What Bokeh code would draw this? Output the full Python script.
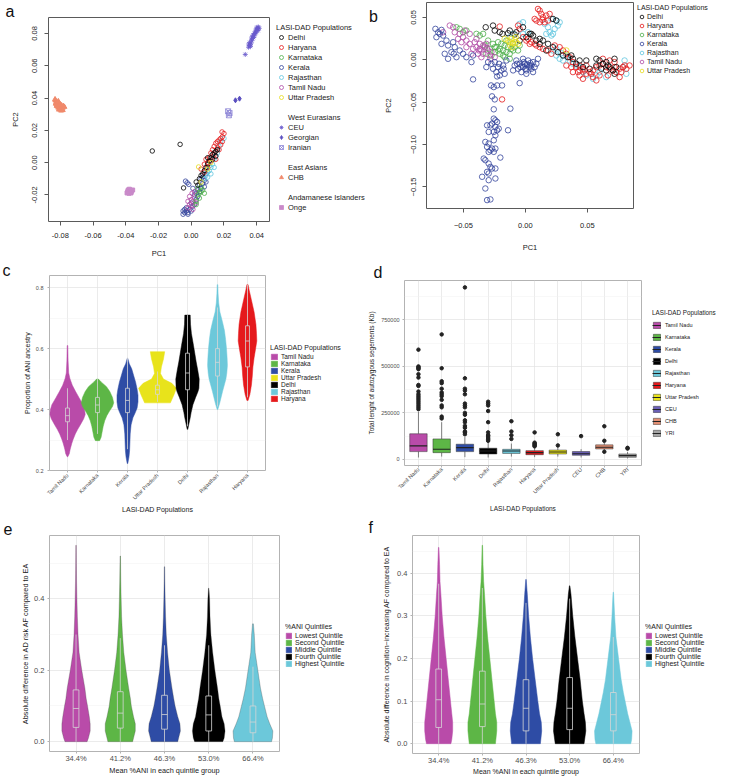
import math
from bokeh.plotting import figure
from bokeh.layouts import column, row
from bokeh.models import Range1d, FixedTicker, Legend, LegendItem, Label, ColumnDataSource
from bokeh.embed import file_html
from bokeh.resources import INLINE

FONT = "Liberation Sans"

# ---------------- Panel a : PCA with reference populations ----------------
a_xticks = [-0.08, -0.06, -0.04, -0.02, 0.0, 0.02, 0.04]
a_xlabels = ["-0.08", "-0.06", "-0.04", "-0.02", "0.00", "0.02", "0.04"]
a_yticks = [-0.02, 0.0, 0.02, 0.04, 0.06, 0.08]
a_ylabels = ["-0.02", "0.00", "0.02", "0.04", "0.06", "0.08"]

a_kerala = [(-0.004, -0.031), (-0.003, -0.030), (-0.002, -0.031), (-0.001, -0.029), (0.000, -0.030),
            (-0.003, -0.028), (0.001, -0.027), (0.002, -0.026), (0.000, -0.025), (0.003, -0.023),
            (0.004, -0.021), (0.003, -0.019), (0.005, -0.018), (0.006, -0.016), (0.005, -0.014),
            (0.007, -0.013), (0.008, -0.011), (0.007, -0.009), (0.009, -0.007), (0.006, -0.010),
            (-0.0035, -0.0115), (-0.0025, -0.0125), (-0.0015, -0.0135), (0.001, -0.016), (0.002, -0.020),
            (0.004, -0.017), (0.008, -0.015), (0.009, -0.012), (-0.005, -0.030), (-0.004, -0.029),
            (-0.005, -0.032), (-0.002, -0.032)]
a_tamil = [(-0.002, -0.028), (-0.001, -0.026), (0.000, -0.027), (0.001, -0.024), (0.002, -0.022),
           (0.000, -0.023), (-0.001, -0.021), (0.003, -0.025), (0.001, -0.029), (0.0005, -0.019),
           (0.002, -0.018), (-0.002, -0.024)]
a_karnataka = [(0.003, -0.024), (0.004, -0.020), (0.005, -0.019), (0.006, -0.018), (0.007, -0.017),
               (0.005, -0.022), (0.006, -0.015), (0.004, -0.016), (0.008, -0.019), (0.003, -0.026)]
a_rajasthan = [(0.008, -0.010), (0.009, -0.008), (0.010, -0.006), (0.011, -0.005), (0.012, -0.003),
               (0.010, -0.009), (0.012, -0.007), (0.013, -0.001), (0.014, 0.002), (0.015, 0.004),
               (0.016, 0.006), (0.017, 0.010), (0.018, 0.013), (0.009, -0.004), (0.011, -0.002),
               (0.013, 0.003), (0.020, 0.015), (0.014, -0.003)]
a_haryana = [(0.006, -0.004), (0.008, -0.001), (0.009, 0.002), (0.010, 0.000), (0.011, 0.003),
             (0.012, 0.006), (0.013, 0.008), (0.014, 0.010), (0.015, 0.012), (0.016, 0.013),
             (0.017, 0.014), (0.018, 0.015), (0.019, 0.016), (0.020, 0.018), (0.018, 0.011),
             (0.016, 0.009), (0.014, 0.005), (0.012, 0.001), (0.010, -0.003), (0.008, -0.006),
             (0.019, 0.013), (0.017, 0.008), (0.015, 0.002), (0.0188, 0.019)]
a_delhi = [(-0.0238, 0.0072), (-0.0068, 0.0113), (-0.0047, -0.0157), (0.003, -0.012), (0.005, -0.010),
           (0.006, -0.008), (0.008, -0.005), (0.009, -0.003), (0.010, -0.001), (0.011, 0.001),
           (0.012, 0.003), (0.013, 0.005), (0.014, 0.006), (0.015, 0.007), (0.016, 0.008),
           (0.015, 0.004), (0.013, 0.002), (0.007, -0.007), (0.004, -0.014), (0.010, 0.003)]
a_up = [(0.0045, -0.0027), (0.006, -0.012), (0.010, -0.004), (0.012, 0.000)]
a_ceu = [(0.0350, 0.0715), (0.0355, 0.0725), (0.0360, 0.0730), (0.0358, 0.0745), (0.0365, 0.0740),
         (0.0370, 0.0755), (0.0368, 0.0765), (0.0375, 0.0770), (0.0380, 0.0775), (0.0378, 0.0790),
         (0.0385, 0.0785), (0.0390, 0.0800), (0.0395, 0.0805), (0.0392, 0.0815), (0.0400, 0.0820),
         (0.0405, 0.0830), (0.0410, 0.0840), (0.0402, 0.0838), (0.0398, 0.0828), (0.0386, 0.0800),
         (0.0372, 0.0780), (0.0362, 0.0720), (0.0352, 0.0735), (0.0408, 0.0818), (0.0415, 0.0832),
         (0.0330, 0.0670)]
a_georgian = [(0.0270, 0.0386), (0.0295, 0.0396)]
a_iranian = [(0.0225, 0.0318), (0.0230, 0.0293), (0.0234, 0.0307)]
a_chb = [(-0.0830, 0.0385), (-0.0825, 0.0375), (-0.0828, 0.0365), (-0.0820, 0.0360), (-0.0815, 0.0370),
         (-0.0810, 0.0355), (-0.0805, 0.0350), (-0.0800, 0.0345), (-0.0812, 0.0340), (-0.0798, 0.0335),
         (-0.0790, 0.0330), (-0.0785, 0.0340), (-0.0780, 0.0350), (-0.0792, 0.0355), (-0.0802, 0.0362),
         (-0.0818, 0.0348), (-0.0808, 0.0328), (-0.0795, 0.0322), (-0.0785, 0.0325), (-0.0775, 0.0345),
         (-0.0822, 0.0352), (-0.0832, 0.0392), (-0.0812, 0.0380)]
a_onge = [(-0.0385, -0.0170), (-0.0378, -0.0165), (-0.0370, -0.0172), (-0.0388, -0.0180), (-0.0375, -0.0182),
          (-0.0365, -0.0178), (-0.0380, -0.0190), (-0.0368, -0.0188), (-0.0358, -0.0170), (-0.0392, -0.0188)]

# ---------------- Panel b : PCA LASI-DAD only ----------------
b_xticks = [-0.05, 0.0, 0.05]
b_xlabels = ["\u22120.05", "0.00", "0.05"]
b_yticks = [-0.15, -0.10, -0.05, 0.0, 0.05]
b_ylabels = ["\u22120.15", "\u22120.10", "\u22120.05", "0.00", "0.05"]

b_kerala = [(-0.0726, 0.0365), (-0.0704, 0.0325), (-0.0718, 0.0267), (-0.0691, 0.0306), (-0.0664, 0.0286),
            (-0.0637, 0.0227), (-0.0677, 0.0188), (-0.0624, 0.0169), (-0.0583, 0.0208), (-0.0570, 0.0149),
            (-0.0597, 0.0090), (-0.0651, 0.0071), (-0.0624, 0.0012), (-0.0556, 0.0031), (-0.0530, 0.0110),
            (-0.0503, 0.0071), (-0.0476, 0.0031), (-0.0435, -0.0027), (-0.0422, 0.0051), (-0.0578, 0.0071),
            (-0.0677, 0.0353), (-0.0422, -0.0231),
            (-0.0277, -0.0302), (-0.0255, -0.0322), (-0.0228, -0.0302), (-0.0188, -0.0302), (-0.0269, -0.0431),
            (-0.0247, -0.0467), (-0.0255, -0.0584), (-0.0121, -0.0576), (-0.0255, -0.0694), (-0.0242, -0.0714),
            (-0.0228, -0.0733), (-0.0269, -0.0753), (-0.0309, -0.0773), (-0.0282, -0.0773), (-0.0242, -0.0792),
            (-0.0215, -0.0812), (-0.0228, -0.0831), (-0.0255, -0.0851), (-0.0296, -0.0851), (-0.0140, -0.0831),
            (-0.0242, -0.0890), (-0.0255, -0.0949), (-0.0323, -0.0969), (-0.0296, -0.0988), (-0.0309, -0.1027),
            (-0.0282, -0.1067), (-0.0269, -0.1047), (-0.0255, -0.1086), (-0.0242, -0.1047), (-0.0296, -0.1086),
            (-0.0336, -0.1165), (-0.0323, -0.1184), (-0.0296, -0.1224), (-0.0282, -0.1263), (-0.0269, -0.1282),
            (-0.0242, -0.1282), (-0.0309, -0.1322), (-0.0296, -0.1341), (-0.0349, -0.1380), (-0.0296, -0.1420),
            (-0.0242, -0.1400), (-0.0323, -0.1518), (-0.0309, -0.1655), (-0.0282, -0.1647), (-0.0202, -0.1153),
            (-0.0247, -0.0027), (-0.0220, -0.0086), (-0.0194, -0.0125), (-0.0207, -0.0184), (-0.0180, -0.0067),
            (-0.0234, -0.0145), (-0.0167, -0.0165), (-0.0153, -0.0008), (-0.0274, -0.0047), (-0.0301, -0.0027),
            (-0.0315, -0.0086), (-0.0261, -0.0106), (-0.0212, -0.0047), (-0.0175, -0.0106), (-0.0228, -0.0196),
            (-0.0073, -0.0008), (-0.0046, -0.0047), (-0.0019, -0.0086), (0.0008, -0.0125), (0.0035, -0.0067),
            (0.0062, -0.0027), (-0.0019, 0.0012), (0.0022, -0.0008), (0.0048, -0.0106), (0.0075, -0.0086),
            (-0.0059, -0.0106), (-0.0032, -0.0145), (0.0008, -0.0165), (-0.0046, -0.0275), (0.0089, -0.0047),
            (0.0102, 0.0012), (-0.0086, -0.0067), (-0.0005, -0.0047), (0.0030, -0.0086), (0.0003, -0.0106),
            (-0.0024, -0.0067), (0.0040, -0.0039), (-0.0067, -0.0047), (-0.0099, -0.0125), (0.0062, -0.0145),
            (-0.0013, -0.0027), (0.0013, -0.0055), (-0.0040, -0.0086), (0.0048, -0.0067)]
b_tamil = [(-0.0610, 0.0404), (-0.0583, 0.0384), (-0.0570, 0.0325), (-0.0530, 0.0306), (-0.0503, 0.0267),
           (-0.0476, 0.0227), (-0.0449, 0.0188), (-0.0422, 0.0129), (-0.0395, 0.0149), (-0.0368, 0.0129),
           (-0.0355, 0.0110), (-0.0341, 0.0071), (-0.0382, 0.0071), (-0.0409, 0.0208), (-0.0328, 0.0149),
           (-0.0301, 0.0110), (-0.0288, 0.0051), (-0.0355, 0.0031), (-0.0315, 0.0188), (-0.0368, 0.0188),
           (-0.0395, 0.0247), (-0.0449, 0.0306), (-0.0489, 0.0345), (-0.0543, 0.0247), (-0.0516, 0.0208),
           (-0.0476, 0.0149), (-0.0435, 0.0071), (-0.0282, 0.0012), (-0.0341, 0.0169), (-0.0374, 0.0110),
           (-0.0309, 0.0141), (-0.0274, 0.0090), (-0.0247, 0.0031), (-0.0664, 0.0325)]
b_karnataka = [(-0.0556, 0.0384), (-0.0530, 0.0365), (-0.0503, 0.0325), (-0.0476, 0.0345), (-0.0301, 0.0227),
               (-0.0261, 0.0188), (-0.0234, 0.0149), (-0.0207, 0.0129), (-0.0180, 0.0110), (-0.0153, 0.0090),
               (-0.0126, 0.0071), (-0.0207, 0.0071), (-0.0247, 0.0090), (-0.0288, 0.0129), (-0.0167, 0.0169),
               (-0.0140, 0.0149), (-0.0099, 0.0110), (-0.0086, 0.0149), (-0.0220, 0.0208), (-0.0194, 0.0188),
               (-0.0153, 0.0227), (-0.0328, 0.0169), (-0.0315, 0.0071), (-0.0126, 0.0012), (-0.0167, 0.0031),
               (-0.0274, 0.0051), (-0.0368, 0.0286), (-0.0395, 0.0306), (-0.0341, 0.0306), (-0.0099, 0.0188),
               (-0.0059, 0.0110), (-0.0046, 0.0169), (-0.0113, 0.0129), (-0.0220, 0.0110), (-0.0180, 0.0051),
               (-0.0247, 0.0149)]
b_up = [(-0.0140, 0.0227), (-0.0126, 0.0208), (-0.0113, 0.0247), (-0.0099, 0.0196), (-0.0086, 0.0235),
        (-0.0073, 0.0208), (-0.0121, 0.0169), (-0.0105, 0.0149), (-0.0167, 0.0247), (0.0331, 0.0110),
        (-0.0078, 0.0267), (-0.0059, 0.0188)]
b_delhi = [(-0.0320, 0.0384), (-0.0261, 0.0404), (-0.0247, 0.0345), (-0.0185, 0.0306), (-0.0126, 0.0345),
           (-0.0073, 0.0325), (-0.0046, 0.0227), (-0.0019, 0.0384), (0.0048, 0.0306), (0.0062, 0.0286),
           (0.0116, 0.0247), (0.0142, 0.0227), (0.0183, 0.0188), (0.0223, 0.0149), (0.0263, 0.0090),
           (0.0304, 0.0051), (0.0344, 0.0031), (0.0384, 0.0012), (0.0438, -0.0008), (0.0492, -0.0008),
           (0.0573, 0.0012), (0.0599, -0.0008), (0.0653, -0.0027), (0.0667, -0.0067), (0.0680, -0.0086),
           (0.0707, -0.0125), (0.0720, -0.0165), (0.0734, -0.0086), (0.0720, 0.0012), (0.0223, 0.0482),
           (0.0250, 0.0463), (0.0371, 0.0051), (0.0008, 0.0267), (-0.0086, 0.0298), (-0.0140, 0.0314),
           (-0.0207, 0.0325), (0.0035, 0.0306), (0.0116, 0.0188), (0.0169, 0.0110), (0.0089, 0.0227),
           (0.0573, -0.0067), (0.0613, -0.0106), (0.0653, -0.0125), (0.0626, -0.0047), (0.0465, -0.0086),
           (0.0411, -0.0047), (0.0519, -0.0106)]
b_haryana = [(0.0102, 0.0600), (0.0116, 0.0580), (0.0129, 0.0541), (0.0142, 0.0502), (0.0169, 0.0522),
             (0.0183, 0.0463), (0.0156, 0.0443), (0.0196, 0.0541), (0.0089, 0.0463), (0.0116, 0.0443),
             (0.0075, 0.0482), (0.0137, 0.0471),
             (-0.0207, 0.0392), (-0.0059, 0.0404), (-0.0046, 0.0365), (-0.0019, 0.0267), (0.0008, 0.0227),
             (0.0022, 0.0247), (0.0035, 0.0188), (0.0048, 0.0208), (0.0075, 0.0188), (0.0089, 0.0169),
             (0.0116, 0.0149), (0.0142, 0.0129), (0.0183, 0.0110), (0.0210, 0.0071), (0.0237, 0.0169),
             (0.0277, 0.0149), (0.0304, 0.0110), (0.0331, 0.0071), (0.0358, 0.0031), (0.0384, -0.0027),
             (0.0411, -0.0086), (0.0438, -0.0125), (0.0465, -0.0106), (0.0492, -0.0165), (0.0519, -0.0145),
             (0.0546, -0.0125), (0.0573, -0.0086), (0.0599, -0.0067), (0.0626, -0.0047), (0.0653, -0.0086),
             (0.0680, -0.0106), (0.0707, -0.0125), (0.0734, -0.0145), (0.0761, -0.0106), (0.0788, -0.0086),
             (0.0801, -0.0067), (0.0815, -0.0106), (0.0841, -0.0067), (0.0599, -0.0184), (0.0546, -0.0204),
             (0.0465, -0.0224), (0.0438, -0.0184), (0.0384, -0.0145), (0.0331, -0.0067), (0.0626, 0.0012),
             (0.0680, -0.0008), (0.0720, -0.0027), (0.0761, -0.0204), (0.0667, -0.0184), (0.0573, -0.0243),
             (0.0532, -0.0165), (0.0492, -0.0067), (0.0438, -0.0067), (-0.0188, -0.0467), (0.0371, -0.0086),
             (0.0425, -0.0145), (0.0478, -0.0125), (0.0774, -0.0145), (0.0720, -0.0086)]
b_rajasthan = [(0.0156, 0.0424), (0.0183, 0.0384), (0.0196, 0.0325), (0.0223, 0.0306), (0.0237, 0.0365),
               (0.0250, 0.0463), (0.0277, 0.0443), (0.0263, 0.0404), (0.0210, 0.0482), (0.0169, 0.0306),
               (0.0210, 0.0286), (0.0223, 0.0110), (0.0250, 0.0051), (0.0277, 0.0012), (0.0304, -0.0008),
               (0.0331, 0.0051), (0.0358, -0.0008), (0.0384, -0.0047), (0.0411, -0.0067), (0.0438, -0.0086),
               (0.0465, -0.0145), (0.0492, -0.0184), (0.0546, -0.0224), (0.0573, -0.0184), (0.0599, -0.0145),
               (0.0653, -0.0204), (0.0788, -0.0086), (0.0815, -0.0165), (-0.0019, 0.0443), (-0.0046, 0.0424),
               (-0.0126, 0.0267), (-0.0099, 0.0306), (-0.0019, 0.0306), (0.0022, 0.0325), (0.0250, 0.0129),
               (0.0290, 0.0078), (0.0801, -0.0008)]

POP_COLORS = {"Delhi": "#000000", "Haryana": "#E41A1C", "Karnataka": "#4DAF4A", "Kerala": "#34449C",
              "Rajasthan": "#5FC5DE", "Tamil Nadu": "#B04AA5", "Uttar Pradesh": "#E6DC1A"}
REF_STYLE = {"CEU": ("asterisk", "#6A5ACD"), "Georgian": ("diamond", "#5A4FC0"), "Iranian": ("square_x", "#8C84D6"),
             "CHB": ("triangle", "#F0896B"), "Onge": ("square", "#C98AC9")}

# ---------------- Panel c : ANI ancestry violins ----------------
c_cats = ["Tamil Nadu", "Karnataka", "Kerala", "Uttar Pradesh", "Delhi", "Rajasthan", "Haryana"]
c_colors = ["#B94BA9", "#5DB646", "#2E4CA5", "#E8E31B", "#000000", "#6CC8DA", "#E5191C"]
c_tn_y = [0.61, 0.56, 0.52, 0.502, 0.48, 0.459, 0.44, 0.416, 0.40, 0.384, 0.37, 0.352, 0.335, 0.32, 0.30, 0.288, 0.27, 0.255, 0.245]
c_tn_w = [0.01, 0.02, 0.04, 0.08, 0.16, 0.27, 0.38, 0.52, 0.57, 0.59, 0.54, 0.44, 0.34, 0.26, 0.18, 0.14, 0.09, 0.06, 0.01]
c_kar_y = [0.50, 0.49, 0.475, 0.459, 0.44, 0.422, 0.41, 0.395, 0.38, 0.363, 0.345, 0.33, 0.309, 0.298]
c_kar_w = [0.03, 0.13, 0.30, 0.41, 0.50, 0.54, 0.50, 0.40, 0.31, 0.24, 0.19, 0.16, 0.12, 0.07]
c_ker_y = [0.568, 0.55, 0.534, 0.51, 0.49, 0.467, 0.447, 0.425, 0.405, 0.39, 0.373, 0.35, 0.32, 0.29, 0.266, 0.245, 0.223]
c_ker_w = [0.01, 0.06, 0.14, 0.21, 0.27, 0.32, 0.35, 0.35, 0.32, 0.26, 0.18, 0.12, 0.09, 0.08, 0.07, 0.05, 0.01]
c_up_y = [0.59, 0.566, 0.54, 0.518, 0.50, 0.486, 0.47, 0.449, 0.422]
c_up_w = [0.24, 0.20, 0.13, 0.10, 0.20, 0.48, 0.63, 0.55, 0.43]
c_del_y = [0.71, 0.68, 0.65, 0.61, 0.58, 0.556, 0.53, 0.50, 0.47, 0.459, 0.44, 0.416, 0.39, 0.373, 0.35, 0.335]
c_del_w = [0.09, 0.10, 0.13, 0.20, 0.25, 0.29, 0.34, 0.39, 0.38, 0.35, 0.27, 0.18, 0.12, 0.09, 0.04, 0.01]
c_raj_y = [0.81, 0.78, 0.75, 0.72, 0.69, 0.66, 0.63, 0.60, 0.57, 0.545, 0.52, 0.50, 0.46, 0.42, 0.40]
c_raj_w = [0.01, 0.02, 0.04, 0.08, 0.16, 0.23, 0.27, 0.30, 0.32, 0.33, 0.31, 0.28, 0.17, 0.07, 0.01]
c_har_y = [0.81, 0.79, 0.76, 0.72, 0.68, 0.65, 0.625, 0.60, 0.57, 0.54, 0.51, 0.48, 0.45, 0.43]
c_har_w = [0.02, 0.06, 0.13, 0.22, 0.28, 0.30, 0.31, 0.27, 0.22, 0.18, 0.16, 0.13, 0.08, 0.02]
c_q1 = [0.36, 0.39, 0.39, 0.45, 0.465, 0.51, 0.54]
c_med = [0.38, 0.415, 0.43, 0.465, 0.52, 0.555, 0.625]
c_q3 = [0.405, 0.44, 0.47, 0.48, 0.585, 0.60, 0.675]
c_wlo = [0.30, 0.32, 0.27, 0.425, 0.345, 0.41, 0.44]
c_whi = [0.47, 0.50, 0.57, 0.525, 0.71, 0.735, 0.81]
c_yticks = [0.2, 0.4, 0.6, 0.8]
c_ylabels = ["0.2", "0.4", "0.6", "0.8"]
c_yminor = [0.3, 0.5, 0.7]

# ---------------- Panel d : autozygous segments boxplots ----------------
d_cats = ["Tamil Nadu", "Karnataka", "Kerala", "Delhi", "Rajasthan", "Haryana", "Uttar Pradesh", "CEU", "CHB", "YRI"]
d_colors = ["#B94BA9", "#5DB646", "#2E4CA5", "#000000", "#6CC8DA", "#E5191C", "#E8E31B", "#6A5FB5", "#E38F73", "#A6A6A6"]
d_q1 = [41700, 36000, 41700, 29000, 32000, 25000, 29000, 22000, 56000, 11000]
d_med = [72400, 54000, 63000, 45000, 45000, 36000, 40000, 30000, 65000, 20000]
d_q3 = [137600, 110000, 81500, 60000, 54000, 47000, 50000, 42000, 78000, 29000]
d_wlo = [10000, 15000, 12000, 10000, 15000, 12000, 15000, 10000, 50000, 5000]
d_whi = [255000, 200000, 120000, 95000, 85000, 68000, 70000, 55000, 90000, 40000]
d_out = [
    [590000, 500000, 495000, 490000, 485000, 458000, 440000, 400000, 395000, 365000, 350000, 340000,
     330000, 320000, 310000, 300000, 290000, 280000, 270000],
    [672000, 490000, 420000, 410000, 380000, 360000, 350000, 340000, 320000, 290000, 280000, 230000, 220000],
    [925000, 436000, 380000, 370000, 350000, 300000, 290000, 280000, 250000, 240000, 210000, 200000,
     180000, 170000, 150000, 145000, 135000],
    [310000, 300000, 290000, 260000, 200000, 145000, 130000, 125000, 115000, 108000, 100000],
    [205000, 150000, 130000, 110000],
    [145000, 90000, 85000, 80000, 75000, 70000],
    [135000, 75000],
    [125000],
    [178000, 100000, 41000],
    [62000, 58000],
]
d_yticks = [0, 250000, 500000, 750000]
d_ylabels = ["0", "250000", "500000", "750000"]
d_yminor = [125000, 375000, 625000, 875000]

# ---------------- Panels e / f : quintile violins ----------------
q_names = ["Lowest Quintile", "Second Quintile", "Middle Quintile", "Fourth Quintile", "Highest Quintile"]
q_labels = ["34.4%", "41.2%", "46.3%", "53.0%", "66.4%"]
q_colors = ["#B94BA9", "#5DB646", "#2E4CA5", "#000000", "#6CC8DA"]

e_low_y = [0.55, 0.50, 0.45, 0.40, 0.35, 0.30, 0.25, 0.20, 0.15, 0.12, 0.10, 0.07, 0.05, 0.03, 0.01, 0.0]
e_low_w = [0.005, 0.008, 0.012, 0.02, 0.03, 0.045, 0.07, 0.13, 0.20, 0.23, 0.26, 0.30, 0.32, 0.32, 0.28, 0.25]
e_sec_y = [0.52, 0.45, 0.40, 0.35, 0.30, 0.25, 0.20, 0.15, 0.12, 0.10, 0.07, 0.05, 0.03, 0.01, 0.0]
e_sec_w = [0.005, 0.012, 0.02, 0.03, 0.05, 0.08, 0.13, 0.19, 0.23, 0.25, 0.30, 0.34, 0.34, 0.30, 0.28]
e_mid_y = [0.49, 0.45, 0.40, 0.35, 0.30, 0.25, 0.20, 0.15, 0.12, 0.10, 0.07, 0.05, 0.03, 0.01, 0.0]
e_mid_w = [0.005, 0.008, 0.015, 0.025, 0.04, 0.07, 0.11, 0.17, 0.21, 0.24, 0.30, 0.35, 0.36, 0.32, 0.30]
e_four_y = [0.43, 0.40, 0.35, 0.30, 0.25, 0.20, 0.15, 0.12, 0.10, 0.07, 0.05, 0.03, 0.01, 0.0]
e_four_w = [0.005, 0.02, 0.03, 0.05, 0.09, 0.14, 0.20, 0.23, 0.26, 0.30, 0.35, 0.37, 0.35, 0.32]
e_high_y = [0.33, 0.30, 0.25, 0.20, 0.15, 0.12, 0.10, 0.07, 0.05, 0.03, 0.01, 0.0]
e_high_w = [0.01, 0.03, 0.05, 0.11, 0.17, 0.22, 0.26, 0.32, 0.38, 0.45, 0.44, 0.42]
e_q1 = [0.04, 0.038, 0.035, 0.03, 0.025]
e_med = [0.093, 0.08, 0.076, 0.075, 0.055]
e_q3 = [0.145, 0.14, 0.13, 0.128, 0.10]
e_whi = [0.30, 0.29, 0.27, 0.27, 0.21]
e_yticks = [0.0, 0.2, 0.4]
e_ylabels = ["0.0", "0.2", "0.4"]
e_yminor = [0.1, 0.3, 0.5]

f_low_y = [0.46, 0.42, 0.38, 0.35, 0.30, 0.25, 0.20, 0.15, 0.10, 0.07, 0.05, 0.03, 0.01, 0.0]
f_low_w = [0.005, 0.02, 0.03, 0.05, 0.08, 0.12, 0.17, 0.22, 0.27, 0.30, 0.32, 0.32, 0.30, 0.28]
f_sec_y = [0.465, 0.42, 0.38, 0.35, 0.30, 0.25, 0.20, 0.15, 0.10, 0.07, 0.05, 0.03, 0.0]
f_sec_w = [0.005, 0.015, 0.03, 0.05, 0.08, 0.12, 0.17, 0.22, 0.27, 0.30, 0.33, 0.33, 0.30]
f_mid_y = [0.385, 0.35, 0.30, 0.25, 0.20, 0.15, 0.10, 0.07, 0.05, 0.03, 0.0]
f_mid_w = [0.005, 0.03, 0.06, 0.10, 0.15, 0.21, 0.27, 0.31, 0.35, 0.36, 0.33]
f_four_y = [0.37, 0.35, 0.30, 0.25, 0.20, 0.15, 0.10, 0.07, 0.05, 0.03, 0.0]
f_four_w = [0.005, 0.03, 0.07, 0.12, 0.18, 0.24, 0.29, 0.33, 0.36, 0.37, 0.33]
f_high_y = [0.355, 0.30, 0.25, 0.20, 0.15, 0.12, 0.10, 0.07, 0.05, 0.03, 0.01, 0.0]
f_high_w = [0.005, 0.03, 0.06, 0.12, 0.18, 0.23, 0.27, 0.33, 0.38, 0.43, 0.42, 0.40]
f_q1 = [0.038, 0.04, 0.03, 0.033, 0.03]
f_med = [0.103, 0.093, 0.083, 0.083, 0.068]
f_q3 = [0.175, 0.17, 0.15, 0.155, 0.12]
f_whi = [0.375, 0.365, 0.33, 0.34, 0.25]
f_yticks = [0.0, 0.1, 0.2, 0.3, 0.4]
f_ylabels = ["0.0", "0.1", "0.2", "0.3", "0.4"]
f_yminor = [0.05, 0.15, 0.25, 0.35, 0.45]


# ---------------- helpers ----------------
def mkfig(w, h, xr, yr, ml, mr, mt, mb, notitle=False):
    kw = dict(title=None) if notitle else {}
    p = figure(width=w, height=h, x_range=Range1d(*xr), y_range=Range1d(*yr),
               output_backend="svg", toolbar_location=None,
               min_border_left=ml, min_border_right=mr, min_border_top=mt, min_border_bottom=mb, **kw)
    p.background_fill_color = "white"
    p.border_fill_color = "white"
    return p


def mkleg(w, h, ml=0, mt=0):
    p = figure(width=w, height=h, x_range=Range1d(0, w - ml), y_range=Range1d(0, h - mt), title=None,
               output_backend="svg", toolbar_location=None, x_axis_location=None, y_axis_location=None,
               min_border_left=ml, min_border_top=mt, min_border_right=0, min_border_bottom=0)
    p.outline_line_color = None
    p.grid.visible = False
    p.background_fill_color = "white"
    p.border_fill_color = "white"
    return p


def set_axes(p, xt, xl, yt, yl, yminor=None):
    p.xaxis.ticker = FixedTicker(ticks=xt)
    p.xaxis.major_label_overrides = dict(zip(xt, xl))
    if yminor:
        p.yaxis.ticker = FixedTicker(ticks=yt, minor_ticks=yminor)
    else:
        p.yaxis.ticker = FixedTicker(ticks=yt)
    p.yaxis.major_label_overrides = dict(zip(yt, yl))


def axis_common(ax, tick_color, tick_out, label_size, label_color, standoff, title_size, title_standoff):
    ax.axis_line_color = None
    ax.major_tick_line_color = tick_color
    ax.major_tick_out = tick_out
    ax.major_tick_in = 0
    ax.minor_tick_line_color = None
    ax.major_label_text_font = FONT
    ax.major_label_text_font_size = label_size
    ax.major_label_text_color = label_color
    ax.major_label_standoff = standoff
    ax.axis_label_text_font = FONT
    ax.axis_label_text_font_size = title_size
    ax.axis_label_text_font_style = "normal"
    ax.axis_label_text_color = "#1A1A1A"
    ax.axis_label_standoff = title_standoff


def style_base(p, xt, xl, yt, yl, xlabel, ylabel, xs, xts, ys, yts):
    set_axes(p, xt, xl, yt, yl)
    p.xgrid.visible = False
    p.ygrid.visible = False
    p.outline_line_color = "#5A5A5A"
    p.outline_line_width = 1
    p.yaxis.major_label_orientation = "vertical"
    p.xaxis.axis_label = xlabel
    p.yaxis.axis_label = ylabel
    axis_common(p.xaxis[0], "#5A5A5A", 4, "7.5px", "#222222", xs, "7.5px", xts)
    axis_common(p.yaxis[0], "#5A5A5A", 4, "7.5px", "#222222", ys, "7.5px", yts)


def style_gg(p, xt, xl, yt, yl, yminor, xlabel, ylabel, tick_size, lab_size, rotate, xs, xts, ys, yts):
    set_axes(p, xt, xl, yt, yl, yminor)
    p.outline_line_color = "#B3B3B3"
    p.outline_line_width = 1
    p.xgrid.grid_line_color = "#E3E3E3"
    p.xgrid.grid_line_width = 0.7
    p.ygrid.grid_line_color = "#E3E3E3"
    p.ygrid.grid_line_width = 0.7
    p.ygrid.minor_grid_line_color = "#F0F0F0"
    p.ygrid.minor_grid_line_width = 0.5
    p.xaxis.axis_label = xlabel
    p.yaxis.axis_label = ylabel
    if rotate:
        p.xaxis.major_label_orientation = math.pi / 4
    axis_common(p.xaxis[0], "#B3B3B3", 2, tick_size, "#4D4D4D", xs, lab_size, xts)
    axis_common(p.yaxis[0], "#B3B3B3", 2, tick_size, "#4D4D4D", ys, lab_size, yts)


def add_legend(p, title, items, size, gw, gh, lh, spacing, standoff, title_size=None, title_standoff=1):
    lg = Legend(items=items, location="top_left", title=title, orientation="vertical",
                border_line_color=None, background_fill_alpha=0, padding=0, margin=0,
                spacing=spacing, glyph_width=gw, glyph_height=gh, label_height=lh,
                label_standoff=standoff, label_text_font=FONT, label_text_font_size=size,
                label_text_color="#1A1A1A",
                title_text_font=FONT, title_text_font_size=title_size or size,
                title_text_font_style="normal", title_text_color="#1A1A1A",
                title_standoff=title_standoff)
    p.add_layout(lg)
    return lg


def set_letter(p, text, offset, standoff, valign):
    t = p.title
    t.text = text
    t.align = "left"
    t.offset = offset
    t.standoff = standoff
    t.vertical_align = valign
    t.text_font = FONT
    t.text_font_size = "16px"
    t.text_font_style = "normal"
    t.text_color = "#111111"


def xs_of(pts):
    return [pt[0] for pt in pts]


def ys_of(pts):
    return [pt[1] for pt in pts]


def violin_source(centers, shapes, colors, names):
    xs, ys = [], []
    for cx, (vy, vw) in zip(centers, shapes):
        xs.append([cx - w for w in vw] + [cx + w for w in reversed(vw)])
        ys.append(list(vy) + list(reversed(vy)))
    return ColumnDataSource(dict(xs=xs, ys=ys, color=colors, name=names))


def add_inner_box(p, centers, q1, med, q3, wlo, whi, half, color):
    p.segment(x0=centers, y0=q3, x1=centers, y1=whi, line_color=color, line_width=0.8)
    p.segment(x0=centers, y0=wlo, x1=centers, y1=q1, line_color=color, line_width=0.8)
    p.quad(left=[c - half for c in centers], right=[c + half for c in centers], bottom=q1, top=q3,
           fill_color=None, line_color=color, line_width=0.8)
    p.segment(x0=[c - half for c in centers], y0=med, x1=[c + half for c in centers], y1=med,
              line_color=color, line_width=0.8)


# legend key proxies: one point placed outside the legend panel's visible range
OFF = [-50.0]
OFF2 = [-49.0]


def patch_key_items(leg, names, colors):
    items = []
    for n, c in zip(names, colors):
        r = leg.patches(xs=[[-50, -49, -49]], ys=[[-50, -50, -49]], fill_color=c, line_color=c, line_width=0.5)
        items.append(LegendItem(label=n, renderers=[r]))
    return items


def pop_item(leg, n):
    return LegendItem(label=n, renderers=[leg.scatter(x=OFF, y=OFF, marker="circle", fill_color=None,
                                                       line_color=POP_COLORS[n], line_width=0.8)])


def ref_item(leg, n):
    mk, col = REF_STYLE[n]
    filled = mk in ("diamond", "triangle", "square")
    return LegendItem(label=n, renderers=[leg.scatter(x=OFF, y=OFF, marker=mk, fill_color=col if filled else None,
                                                       line_color=col, line_width=0.8)])


a_order = ["Delhi", "Haryana", "Karnataka", "Kerala", "Rajasthan", "Tamil Nadu", "Uttar Pradesh"]

# ================= Row 1 (height 260) =================
pa = mkfig(271, 260, (-0.0872, 0.0478), (-0.0365, 0.0899), 48, 2, 17, 39)
style_base(pa, a_xticks, a_xlabels, a_yticks, a_ylabels, "PC1", "PC2", 7, 8, 7, 10)
for name, pts in [("Kerala", a_kerala), ("Tamil Nadu", a_tamil), ("Karnataka", a_karnataka),
                  ("Rajasthan", a_rajasthan), ("Haryana", a_haryana), ("Delhi", a_delhi),
                  ("Uttar Pradesh", a_up)]:
    pa.scatter(xs_of(pts), ys_of(pts), marker="circle", size=4.5, fill_color=None,
               line_color=POP_COLORS[name], line_width=0.8)
pa.scatter(xs_of(a_ceu), ys_of(a_ceu), marker="asterisk", size=5, line_color=REF_STYLE["CEU"][1], line_width=0.8)
pa.scatter(xs_of(a_georgian), ys_of(a_georgian), marker="diamond", size=5, fill_color=REF_STYLE["Georgian"][1],
           line_color=REF_STYLE["Georgian"][1])
pa.scatter(xs_of(a_iranian), ys_of(a_iranian), marker="square_x", size=5, fill_color=None,
           line_color=REF_STYLE["Iranian"][1], line_width=0.8)
pa.scatter(xs_of(a_chb), ys_of(a_chb), marker="triangle", size=5, fill_color=REF_STYLE["CHB"][1],
           line_color=REF_STYLE["CHB"][1])
pa.scatter(xs_of(a_onge), ys_of(a_onge), marker="square", size=4, fill_color=REF_STYLE["Onge"][1],
           line_color=REF_STYLE["Onge"][1])
set_letter(pa, "a", -43, -5, "bottom")

leg_a_top = mkleg(109, 23)
leg_a_top.add_layout(Label(x=97, y=7, text="b", text_font=FONT, text_font_size="16px", text_align="left",
                           text_baseline="alphabetic", text_color="#111111"))
leg_a = mkleg(109, 237, ml=5, mt=0)
blank = leg_a.scatter(x=OFF, y=OFF, marker="circle", size=1, fill_alpha=0, line_alpha=0)
a_items = [pop_item(leg_a, n) for n in a_order]
a_items += [LegendItem(label=" ", renderers=[blank]), LegendItem(label="West Eurasians", renderers=[blank]),
            ref_item(leg_a, "CEU"), ref_item(leg_a, "Georgian"), ref_item(leg_a, "Iranian"),
            LegendItem(label=" ", renderers=[blank]), LegendItem(label="East Asians", renderers=[blank]),
            ref_item(leg_a, "CHB"),
            LegendItem(label=" ", renderers=[blank]), LegendItem(label="Andamanese Islanders", renderers=[blank]),
            ref_item(leg_a, "Onge")]
add_legend(leg_a, "LASI-DAD Populations", a_items, "7.5px", 10, 10, 10, 0, 2, title_standoff=0)

pb = mkfig(255, 260, (-0.0798, 0.0873), (-0.1754, 0.0676), 46, 2, 2, 52, notitle=True)
style_base(pb, b_xticks, b_xlabels, b_yticks, b_ylabels, "PC1", "PC2", 10, 12, 6, 16)
for name, pts in [("Rajasthan", b_rajasthan), ("Karnataka", b_karnataka), ("Tamil Nadu", b_tamil),
                  ("Kerala", b_kerala), ("Haryana", b_haryana), ("Delhi", b_delhi), ("Uttar Pradesh", b_up)]:
    pb.scatter(xs_of(pts), ys_of(pts), marker="circle", size=5.5, fill_color=None,
               line_color=POP_COLORS[name], line_width=0.8)

leg_b = mkleg(95, 260, ml=2, mt=4)
add_legend(leg_b, "LASI-DAD Populations", [pop_item(leg_b, n) for n in a_order], "7px", 9, 9, 9, 0, 1)

# ================= Row 2 (height 255) =================
pc = mkfig(267, 255, (0.4, 7.6), (0.2, 0.84), 49, 2, 15, 41)
c_x = [1, 2, 3, 4, 5, 6, 7]
style_gg(pc, c_x, c_cats, c_yticks, c_ylabels, c_yminor, "LASI-DAD Populations", "Proportion of ANI ancestry",
         "5.5px", "7px", True, 2, 0, 2, 2)
c_src = violin_source(c_x, [(c_tn_y, c_tn_w), (c_kar_y, c_kar_w), (c_ker_y, c_ker_w), (c_up_y, c_up_w),
                            (c_del_y, c_del_w), (c_raj_y, c_raj_w), (c_har_y, c_har_w)], c_colors, c_cats)
pc.patches(xs="xs", ys="ys", fill_color="color", line_color="color", line_width=0.5, source=c_src)
add_inner_box(pc, c_x, c_q1, c_med, c_q3, c_wlo, c_whi, 0.065, "#D6D6D6")
set_letter(pc, "c", -47, -6, "bottom")

leg_c = mkleg(98, 255, ml=3, mt=84)
add_legend(leg_c, "LASI-DAD Populations", patch_key_items(leg_c, c_cats, c_colors), "6.5px", 8, 7, 7, 0,
           3, title_size="7px", title_standoff=2)

pd_ = mkfig(278, 255, (0.4, 10.6), (-33000, 962000), 33, 2, 20, 50)
d_x = list(range(1, 11))
style_gg(pd_, d_x, d_cats, d_yticks, d_ylabels, d_yminor, "LASI-DAD Populations",
         "Total lenght of autozygous segements (Kb)", "5.5px", "6.5px", True, 1, 5, 1, 3)
pd_.segment(x0=d_x, y0=d_q3, x1=d_x, y1=d_whi, line_color="#333333", line_width=0.6)
pd_.segment(x0=d_x, y0=d_wlo, x1=d_x, y1=d_q1, line_color="#333333", line_width=0.6)
d_src = ColumnDataSource(dict(left=[x - 0.375 for x in d_x], right=[x + 0.375 for x in d_x], bottom=d_q1,
                              top=d_q3, med=d_med, color=d_colors))
pd_.quad(left="left", right="right", bottom="bottom", top="top", fill_color="color",
         line_color="#333333", line_width=0.5, source=d_src)
pd_.segment(x0="left", y0="med", x1="right", y1="med", line_color="#222222", line_width=1.1, source=d_src)
ox, oy = [], []
for x, outs in zip(d_x, d_out):
    for v in outs:
        ox.append(x)
        oy.append(v)
pd_.scatter(ox, oy, marker="circle", size=3.5, fill_color="#222222", line_color="#222222")
set_letter(pd_, "d", -31, -1, "bottom")

leg_d = mkleg(87, 255, ml=9, mt=49)
d_items = []
for n, c in zip(d_cats, d_colors):
    rq = leg_d.quad(left=OFF, right=OFF2, bottom=OFF, top=OFF2, fill_color=c, line_color="#333333", line_width=0.5)
    rs = leg_d.segment(x0=OFF, y0=OFF, x1=OFF2, y1=OFF, line_color="#222222", line_width=1.0)
    d_items.append(LegendItem(label=n, renderers=[rq, rs]))
add_legend(leg_d, "LASI-DAD Populations", d_items, "5.5px", 9, 8, 8, 4, 4, title_size="6.3px", title_standoff=5)

# ================= Row 3 (height 262) =================
q_x = [1, 2, 3, 4, 5]
pe = mkfig(281, 262, (0.4, 5.6), (-0.0275, 0.5775), 49, 2, 20, 21)
style_gg(pe, q_x, q_labels, e_yticks, e_ylabels, e_yminor, "Mean %ANI in each quintile group",
         "Absolute difference in AD risk AF compared to EA", "7.5px", "7.3px", False, 0, 0, 1, 1)
e_src = violin_source(q_x, [(e_low_y, e_low_w), (e_sec_y, e_sec_w), (e_mid_y, e_mid_w), (e_four_y, e_four_w),
                            (e_high_y, e_high_w)], q_colors, q_names)
pe.patches(xs="xs", ys="ys", fill_color="color", line_color="#4A4A4A", line_alpha=0.6, line_width=0.5,
           source=e_src)
add_inner_box(pe, q_x, e_q1, e_med, e_q3, [0, 0, 0, 0, 0], e_whi, 0.065, "#D6D6D6")
set_letter(pe, "e", -46, -3, "top")

leg_e = mkleg(84, 262, ml=4, mt=108)
add_legend(leg_e, "%ANI Quintiles", patch_key_items(leg_e, q_names, q_colors), "7px", 7, 7, 7, 0, 3,
           title_size="7px", title_standoff=2)

pf = mkfig(276, 262, (0.4, 5.6), (-0.023, 0.488), 47, 2, 20, 21)
style_gg(pf, q_x, q_labels, f_yticks, f_ylabels, f_yminor, "Mean %ANI in each quintile group",
         "Absolute difference in cognition\u2212increasing AF compared to EA", "7.5px", "7px", False, 0, 0, 1, 4)
f_src = violin_source(q_x, [(f_low_y, f_low_w), (f_sec_y, f_sec_w), (f_mid_y, f_mid_w), (f_four_y, f_four_w),
                            (f_high_y, f_high_w)], q_colors, q_names)
pf.patches(xs="xs", ys="ys", fill_color="color", line_color="color", line_width=0.5, source=f_src)
add_inner_box(pf, q_x, f_q1, f_med, f_q3, [0, 0, 0, 0, 0], f_whi, 0.065, "#D6D6D6")
set_letter(pf, "f", -44, -5, "top")

leg_f = mkleg(89, 262, ml=4, mt=108)
add_legend(leg_f, "%ANI Quintiles", patch_key_items(leg_f, q_names, q_colors), "7px", 7, 7, 7, 0, 3,
           title_size="7px", title_standoff=2)

# each figure sits in its own column so that frames are not aligned across a row
layout = column(row(column(pa), column(leg_a_top, leg_a), column(pb), column(leg_b)),
                row(column(pc), column(leg_c), column(pd_), column(leg_d)),
                row(column(pe), column(leg_e), column(pf), column(leg_f)))
open("out.html", "w").write(file_html(layout, INLINE))
